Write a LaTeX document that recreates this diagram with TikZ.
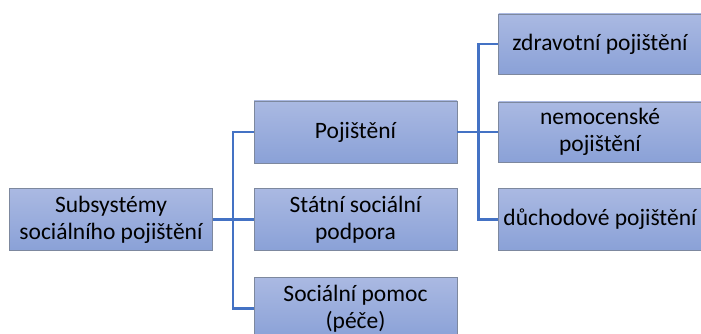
\documentclass[tikz,border=0pt]{standalone}
\usepackage{fontspec}
\setmainfont{Carlito}
\usepackage{xcolor}
\usetikzlibrary{positioning}

\definecolor{boxtop}{HTML}{AAB9E2}
\definecolor{boxbottom}{HTML}{8AA1D7}
\definecolor{boxline}{HTML}{7D889E}
\definecolor{linkblue}{HTML}{4472C4}

\tikzset{
  subbox/.style={rectangle, draw=boxline, line width=0.8pt,
    top color=boxtop, bottom color=boxbottom,
    minimum width=203pt, minimum height=62pt, inner sep=2pt,
    align=center, text=black, font=\fontsize{23.5}{27}\selectfont},
  link/.style={draw=linkblue, line width=2.4pt}
}

\begin{document}
\begin{tikzpicture}[on grid, node distance=88pt and 244.5pt]
        \clip (-111pt,-114.5pt) rectangle (590pt,219.5pt);
        \node[subbox] (root)                              {Subsystémy\\sociálního pojištění};
        \node[subbox] (poj)    [above right=87.5pt and 244.5pt of root] {Pojištění};
        \node[subbox] (statni) [right=of root]            {Státní sociální\\podpora};
        \node[subbox] (pomoc)  [below=89pt of statni]     {Sociální pomoc\\(péče)};
        \node[subbox, minimum height=60pt] (nemoc) [right=of poj]   {nemocenské\\pojištění};
        \node[subbox, minimum height=60pt] (zdrav) [above=of nemoc] {zdravotní pojištění};
        \node[subbox] (duch)   [below=87.5pt of nemoc]    {důchodové pojištění};
        % first level
        \path (root.east) -- ++(20pt,0) coordinate (fork_a);
        \draw[link] (root.east) -- (fork_a);
        \draw[link] (fork_a) |- (poj.west);
        \draw[link] (fork_a) |- (statni.west);
        \draw[link] (fork_a) |- (pomoc.west);
        % second level
        \path (poj.east) -- ++(21pt,0) coordinate (fork_b);
        \draw[link] (poj.east) -- (fork_b);
        \draw[link] (fork_b) |- (zdrav.west);
        \draw[link] (fork_b) |- (nemoc.west);
        \draw[link] (fork_b) |- (duch.west);
\end{tikzpicture}
\end{document}
